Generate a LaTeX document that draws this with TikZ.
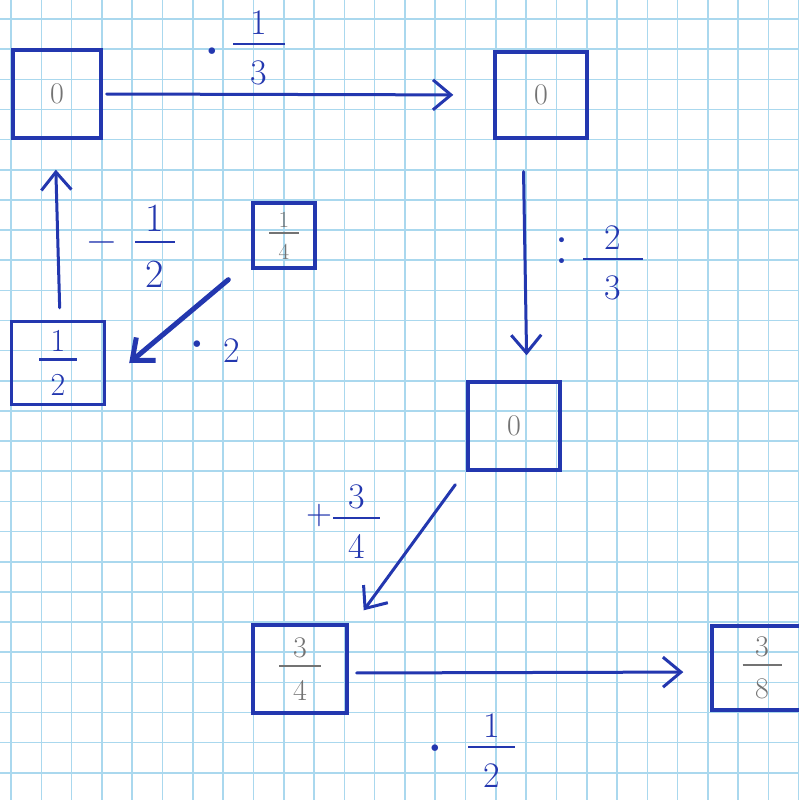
\documentclass[tikz,border=0pt]{standalone}
\usepackage{fontspec}
\usetikzlibrary{arrows.meta}
\definecolor{ink}{RGB}{35,55,175}
\definecolor{pencil}{RGB}{115,115,115}
\definecolor{gridc}{RGB}{170,216,238}
% text-mode fraction: width, numerator, denominator
\newcommand{\fr}[3]{\raisebox{-0.885em}{\vbox{\offinterlineskip
  \hbox to #1{\hss#2\hss}\kern0.22em\hrule height0.07em\kern0.4em
  \hbox to #1{\hss\rule{0pt}{0.7em}#3\hss}}}}
\newcommand{\fs}[1]{\fontsize{#1}{#1}\selectfont}
% big centred dot / colon of zero width, raised by #1
\newcommand{\dt}[1]{\makebox[0pt]{\raisebox{#1}{\fs{80}·}}}
\newcommand{\cl}[1]{\makebox[0pt]{\raisebox{#1}{\fs{60}:}}}
\tikzset{
  gridline/.style={draw=gridc, line width=1.6pt},
  box/.style={draw=ink, line width=3.4pt, rectangle, inner sep=0pt},
  lab/.style={text=ink, inner sep=0pt, font=\fs{36}},
  arr/.style={draw=ink, line width=3pt, line cap=round,
    -{Straight Barb[length=18pt,width=30pt]}},
}
\begin{document}
\begin{tikzpicture}[x=1pt,y=-1pt]
\useasboundingbox (0,0) rectangle (799,800);
\clip (0,0) rectangle (799,800);
\fill[white] (0,0) rectangle (799,800);
% grid paper
\foreach \k in {0,...,26} {
  \draw[gridline] ({11+30.3*\k},0) -- ({11+30.3*\k},800);
  \draw[gridline] (0,{19+30.15*\k}) -- (799,{19+30.15*\k});
}
% boxes
\node[box, text=pencil, font=\fs{30}, minimum width=88pt, minimum height=88pt] (A) at (57,94) {0};
\node[box, text=pencil, font=\fs{30}, minimum width=92pt, minimum height=86pt] (B) at (541,95) {0};
\node[box, text=pencil, font=\fs{30}, minimum width=92pt, minimum height=88pt] (C) at (514,426) {0};
\node[box, text=pencil, font=\fs{23}, minimum width=62pt, minimum height=65pt] (D) at (284,235.5) {\fr{30pt}{1}{4}};
\node[box, text=ink, font=\fs{32}, minimum width=93pt, minimum height=83pt] (E) at (58,363) {\fr{38pt}{1}{2}};
\node[box, text=pencil, font=\fs{30}, minimum width=94pt, minimum height=88pt] (F) at (300,669) {\fr{42pt}{3}{4}};
\node[box, text=pencil, font=\fs{30}, minimum width=100pt, minimum height=84pt] (G) at (762,668) {\fr{39pt}{3}{8}};
% connectors
\draw[arr, shorten <=4pt, shorten >=40pt] (A.east) -- (B.west);
\draw[arr, shorten <=32pt, shorten >=25pt] ([xshift=-18pt]B.south) -- ([xshift=13pt]C.north);
\draw[arr] ([xshift=-11pt,yshift=-13pt]C.south west) -- ([xshift=15pt,yshift=13pt]F.north east);
\draw[arr, shorten <=8pt, shorten >=27pt] ([yshift=-4pt]F.east) -- ([yshift=-4pt]G.west);
\draw[arr, shorten <=12pt, shorten >=30pt] ([xshift=2pt]E.north) -- ([xshift=-2pt]A.south);
\draw[arr, line width=5pt] ([xshift=-23pt,yshift=-10pt]D.south west) -- ([xshift=23pt]E.east);
% labels
\node[lab, anchor=base west] (l1) at (212,53) {\dt{-25pt}\hspace{21pt}\fr{52pt}{1}{3}};
\node[lab, anchor=base west] (l2) at (562,268) {\cl{5pt}\hspace{21pt}\fr{60pt}{2}{3}};
\node[lab, anchor=base west] (l3) at (306,527) {\raisebox{3pt}{+}\hspace{1pt}\fr{47pt}{3}{4}};
\node[lab, anchor=base west] (l4) at (435,756) {\dt{-19pt}\hspace{33pt}\fr{47pt}{1}{2}};
\node[lab, anchor=base west] (l5) at (87,252) {\fs{40}−\hspace{19pt}\fr{40pt}{1}{2}};
\node[lab, anchor=base west] (l6) at (197,362) {\dt{-9pt}\hspace{26pt}2};
\end{tikzpicture}
\end{document}
